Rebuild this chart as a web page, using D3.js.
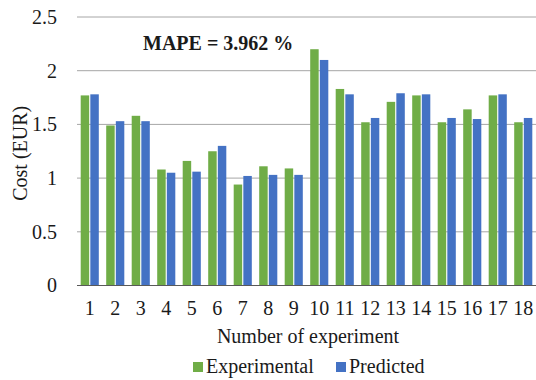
<!DOCTYPE html>
<html>
<head>
<meta charset="utf-8">
<script src="https://cdn.jsdelivr.net/npm/d3@7/dist/d3.min.js"></script>
<style>
  html, body { margin: 0; padding: 0; background: #fff; }
  svg { display: block; font-family: "Liberation Serif", "Times New Roman", serif; }
</style>
</head>
<body>
<svg id="chart" width="536" height="380"></svg>
<script>
// Experiment numbers and cost values (EUR)
const experiments = ["1","2","3","4","5","6","7","8","9","10","11","12","13","14","15","16","17","18"];
const experimental = [1.77,1.49,1.58,1.08,1.16,1.25,0.94,1.11,1.09,2.20,1.83,1.52,1.71,1.77,1.52,1.64,1.77,1.52];
const predicted    = [1.78,1.53,1.53,1.05,1.06,1.30,1.02,1.03,1.03,2.10,1.78,1.56,1.79,1.78,1.56,1.55,1.78,1.56];
const yTicks = [0, 0.5, 1, 1.5, 2, 2.5];
const yTickLabels = ["0","0.5","1","1.5","2","2.5"];
const seriesNames = ["Experimental", "Predicted"];
const seriesColors = ["#70ad47", "#4472c4"];

const FONT = "'Liberation Serif', 'Times New Roman', serif";
const FS = 20;
const TEXT = "#1a1a1a";

const svg = d3.select("#chart");
const margin = { left: 77, right: 0, top: 17, bottom: 94.5 };
const W = 536, H = 380;

const x = d3.scaleBand().domain(experiments).range([margin.left, W - margin.right]).paddingInner(0.29).paddingOuter(0.145);
const xs = d3.scaleBand().domain(seriesNames).range([0, x.bandwidth()]).paddingInner(0.12);
const y = d3.scaleLinear().domain([0, 2.5]).range([H - margin.bottom, margin.top]);

// Horizontal gridlines
svg.append("g")
  .selectAll("line")
  .data(yTicks.filter(d => d > 0))
  .join("line")
  .attr("x1", margin.left).attr("x2", W - margin.right)
  .attr("y1", d => y(d)).attr("y2", d => y(d))
  .attr("stroke", "#a6a6a6").attr("stroke-width", 1);

// Bars
const rows = experiments.map((e, i) => ({ e, vals: [experimental[i], predicted[i]] }));
const groups = svg.append("g").selectAll("g")
  .data(rows).join("g")
  .attr("transform", d => `translate(${x(d.e)},0)`);
groups.selectAll("rect")
  .data(d => d.vals.map((v, k) => ({ v, k })))
  .join("rect")
  .attr("x", d => xs(seriesNames[d.k]))
  .attr("width", xs.bandwidth())
  .attr("y", d => y(d.v))
  .attr("height", d => y(0) - y(d.v))
  .attr("fill", d => seriesColors[d.k]);

// Baseline
svg.append("line")
  .attr("x1", margin.left).attr("x2", W - margin.right)
  .attr("y1", y(0)).attr("y2", y(0))
  .attr("stroke", "#595959").attr("stroke-width", 1.2);

// Y axis labels
const yAxis = d3.axisLeft(y).tickValues(yTicks).tickFormat((d, i) => yTickLabels[i]).tickSize(0).tickPadding(0);
const gy = svg.append("g").attr("transform", `translate(${margin.left - 20},0)`).call(yAxis);
gy.attr("font-family", FONT).attr("font-size", FS);
gy.select(".domain").remove();
gy.selectAll("text").attr("fill", TEXT);

// X axis labels
const xAxis = d3.axisBottom(x).tickSize(0).tickPadding(0);
const gx = svg.append("g").attr("transform", `translate(0,${y(0) + 15})`).call(xAxis);
gx.attr("font-family", FONT).attr("font-size", FS);
gx.select(".domain").remove();
gx.selectAll("text").attr("fill", TEXT);

// Axis titles
svg.append("text")
  .attr("transform", `translate(27,${y(1.25) + 2}) rotate(-90)`)
  .attr("text-anchor", "middle")
  .attr("font-family", FONT).attr("font-size", FS).attr("fill", TEXT)
  .text("Cost (EUR)");
svg.append("text")
  .attr("x", 308).attr("y", 343)
  .attr("text-anchor", "middle")
  .attr("font-family", FONT).attr("font-size", FS).attr("fill", TEXT)
  .text("Number of experiment");

// Annotation
svg.append("text")
  .attr("x", 143).attr("y", 50)
  .attr("font-family", FONT).attr("font-size", FS).attr("font-weight", "bold").attr("fill", TEXT)
  .text("MAPE = 3.962 %");

// Legend
const legendItems = [{ name: seriesNames[0], x: 193 }, { name: seriesNames[1], x: 336 }];
const lg = svg.append("g").selectAll("g").data(legendItems).join("g")
  .attr("transform", d => `translate(${d.x},373)`);
lg.append("rect").attr("x", 0).attr("y", -11).attr("width", 10).attr("height", 10)
  .attr("fill", (d, i) => seriesColors[i]);
lg.append("text").attr("x", 13).attr("y", 0)
  .attr("font-family", FONT).attr("font-size", FS).attr("fill", TEXT)
  .text(d => d.name);
</script>
</body>
</html>
